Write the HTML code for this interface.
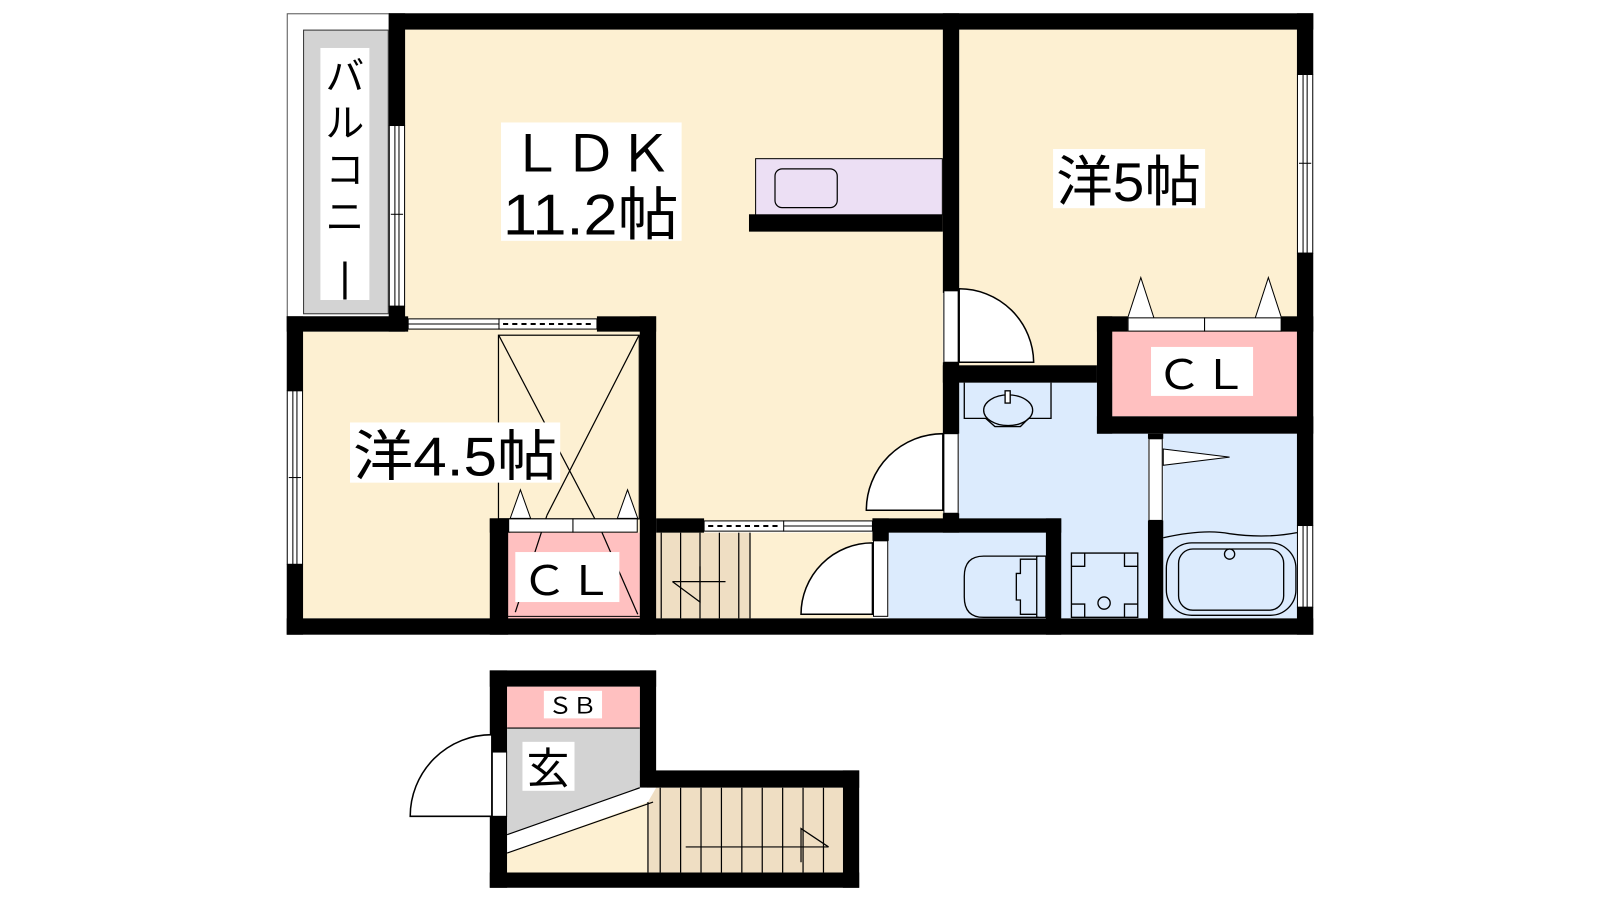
<!DOCTYPE html>
<html><head><meta charset="utf-8"><style>html,body{margin:0;padding:0;background:#fff}svg{display:block}</style></head>
<body>
<svg width="1600" height="900" viewBox="0 0 1568 882" preserveAspectRatio="none" xmlns="http://www.w3.org/2000/svg" font-family="'Liberation Sans','Noto Sans CJK JP',sans-serif">
<!-- floors -->
<rect x="397" y="29" width="527" height="481" fill="#fdf0d2"/>
<rect x="297" y="325" width="330" height="281" fill="#fdf0d2"/>
<rect x="940" y="29" width="331" height="330" fill="#fdf0d2"/>
<rect x="940" y="375" width="185" height="231" fill="#dcebfd"/>
<rect x="1140" y="425" width="131" height="181" fill="#dcebfd"/>
<rect x="871" y="522" width="154" height="84" fill="#dcebfd"/>
<rect x="643" y="522" width="212" height="84" fill="#fdf0d2"/>
<rect x="643" y="522" width="92" height="84" fill="#efdec3"/>
<rect x="497" y="522" width="130" height="84" fill="#ffc0c0"/>
<rect x="1090" y="325" width="181" height="83" fill="#ffc0c0"/>
<!-- balcony -->
<rect x="281.5" y="13.5" width="100" height="297" fill="#fff" stroke="#555" stroke-width="1"/>
<rect x="297.5" y="29.5" width="83" height="278" fill="#d3d3d3" stroke="#333" stroke-width="1"/>
<rect x="314" y="47" width="48" height="247" fill="#fff"/>
<g font-size="38" text-anchor="middle" fill="#000">
<text x="338" y="88">バ</text><text x="338" y="134">ル</text><text x="338" y="180">コ</text><text x="338" y="226">ニ</text><text x="338" y="285" font-size="40">|</text>
</g>
<!-- walls -->
<g fill="#000">
<rect x="381" y="13" width="906" height="16"/>
<rect x="381" y="13" width="16" height="110"/>
<rect x="381" y="300" width="16" height="25"/>
<rect x="281" y="310" width="119" height="15"/>
<rect x="585" y="310" width="58" height="15"/>
<rect x="281" y="310" width="16" height="73"/>
<rect x="281" y="553" width="16" height="69"/>
<rect x="281" y="606" width="1006" height="16"/>
<rect x="627" y="310" width="16" height="312"/>
<rect x="480" y="508" width="18" height="114"/>
<rect x="480" y="508" width="20" height="14"/>
<rect x="643" y="508" width="47" height="14"/>
<rect x="855" y="508" width="185" height="14"/>
<rect x="855" y="508" width="16" height="22"/>
<rect x="1025" y="508" width="15" height="114"/>
<rect x="924" y="13" width="16" height="274"/>
<rect x="924" y="355" width="16" height="70"/>
<rect x="924" y="503" width="16" height="19"/>
<rect x="924" y="358" width="151" height="17"/>
<rect x="1075" y="310" width="15" height="115"/>
<rect x="1075" y="310" width="30" height="15"/>
<rect x="1255" y="310" width="32" height="15"/>
<rect x="1075" y="408" width="212" height="17"/>
<rect x="1125" y="425" width="15" height="5"/>
<rect x="1125" y="510" width="15" height="110"/>
<rect x="1271" y="13" width="16" height="60"/>
<rect x="1271" y="248" width="16" height="267"/>
<rect x="1271" y="595" width="16" height="27"/>
<rect x="734" y="210" width="190" height="17"/>
</g>
<!-- windows -->
<g fill="#fff" stroke="#000" stroke-width="1">
<rect x="381.5" y="123" width="15" height="177"/>
<line x1="387" y1="123" x2="387" y2="300"/><line x1="391" y1="123" x2="391" y2="300"/>
<line x1="383" y1="210" x2="395" y2="210"/>
<rect x="281.5" y="383" width="15" height="170"/>
<line x1="287" y1="383" x2="287" y2="553"/><line x1="291" y1="383" x2="291" y2="553"/>
<line x1="283" y1="468" x2="295" y2="468"/>
<rect x="1271.5" y="73" width="15" height="175"/>
<line x1="1277" y1="73" x2="1277" y2="248"/><line x1="1281" y1="73" x2="1281" y2="248"/>
<line x1="1273" y1="160" x2="1285" y2="160"/>
<rect x="1271.5" y="515" width="15" height="80"/>
<line x1="1277" y1="515" x2="1277" y2="595"/><line x1="1281" y1="515" x2="1281" y2="595"/>
<rect x="400" y="312.5" width="185" height="10"/>
<line x1="400" y1="317.5" x2="489" y2="317.5"/><line x1="489" y1="312" x2="489" y2="323"/>
<rect x="690" y="510.5" width="165" height="10"/>
<line x1="768" y1="515.5" x2="855" y2="515.5"/><line x1="768" y1="510" x2="768" y2="521"/>
</g>
<line x1="493" y1="317.5" x2="583" y2="317.5" stroke="#000" stroke-width="2" stroke-dasharray="5,4"/>
<line x1="694" y1="515.5" x2="766" y2="515.5" stroke="#000" stroke-width="2" stroke-dasharray="5,4"/>
<!-- kitchen -->
<rect x="740.5" y="155.5" width="183" height="55" fill="#ecdff4" stroke="#000" stroke-width="1"/>
<rect x="759.5" y="165.5" width="61" height="38" rx="7" fill="none" stroke="#000" stroke-width="1.2"/>
<!-- closet 4.5 -->
<g stroke="#000" stroke-width="1.2" fill="none">
<rect x="488.5" y="328.5" width="138" height="180"/>
<line x1="489" y1="329" x2="590" y2="522"/><line x1="626" y1="329" x2="536" y2="505"/>
<line x1="536" y1="505" x2="505" y2="600"/><line x1="590" y1="522" x2="625" y2="602"/>
</g>
<g fill="#fff" stroke="#000" stroke-width="1">
<polygon points="500,508 510,480 520,508"/><polygon points="605,508 615,480 625,508"/>
<rect x="498.5" y="508.5" width="63" height="13"/><rect x="561.5" y="508.5" width="63" height="13"/>
<polygon points="1105,312 1118,272 1131,312"/><polygon points="1230,312 1243,272 1256,312"/>
<rect x="1105.5" y="311.5" width="75" height="13"/><rect x="1180.5" y="311.5" width="75" height="13"/>
</g>
<line x1="497" y1="604" x2="627" y2="604" stroke="#000" stroke-width="1"/>
<!-- stairs upper -->
<g stroke="#000" stroke-width="1.2">
<line x1="648" y1="522" x2="648" y2="606"/><line x1="667" y1="522" x2="667" y2="606"/><line x1="686" y1="522" x2="686" y2="606"/><line x1="705" y1="522" x2="705" y2="606"/><line x1="724" y1="522" x2="724" y2="606"/><line x1="735" y1="522" x2="735" y2="606"/>
<polyline points="659,570 711,570" fill="none"/><polyline points="659,570 686,590 686,555" fill="none"/>
</g>
<!-- doors -->
<g fill="#fff" stroke="#000" stroke-width="1.5">
<path d="M940,283 A73,73 0 0 1 1013,355 L940,355 Z"/>
<rect x="925" y="285" width="14" height="70" stroke-width="1"/>
<path d="M924,425 A75,75 0 0 0 849,500 L924,500 Z"/>
<rect x="925" y="425" width="14" height="78" stroke-width="1"/>
<path d="M855,532 A70,70 0 0 0 785,602 L855,602 Z"/>
<rect x="856" y="530" width="14" height="74" stroke-width="1"/>
<rect x="1126" y="430" width="13" height="80" stroke-width="1"/>
<polygon points="1140,440 1205,448 1140,456" stroke-width="1"/>
</g>
<!-- wash basin -->
<g fill="none" stroke="#000" stroke-width="1.3">
<polyline points="945,375 945,410 966,410 975,418 1000,418 1008,410 1030,410 1030,375"/>
<ellipse cx="988" cy="402" rx="24" ry="15"/>
<rect x="985" y="383" width="5" height="12" fill="#fff"/>
<!-- toilet -->
<path d="M1018,545 L964,545 Q945,545 945,565 L945,585 Q945,605 964,605 L1018,605"/>
<rect x="1016" y="545" width="9" height="60"/>
<path d="M1016,548 L1000,548 L1000,562 L996,562 L996,588 L1000,588 L1000,602 L1016,602"/>
<!-- washing pan -->
<path d="M1050,542 H1115 V605 H1050 Z M1050,555 H1063 V542 M1102,542 V555 H1115 M1050,592 H1063 V605 M1102,605 V592 H1115"/>
<circle cx="1082" cy="591" r="6"/>
<!-- bath -->
<path d="M1140,527 Q1180,518 1205,523 Q1240,528 1271,522"/>
<rect x="1143" y="532" width="127" height="71" rx="25"/>
<rect x="1155" y="538" width="103" height="60" rx="14"/>
<circle cx="1205" cy="543" r="5"/>
</g>
<!-- labels -->
<rect x="491" y="120" width="177" height="116" fill="#fff"/>
<text x="579" y="168" font-size="50" text-anchor="middle" textLength="160" lengthAdjust="spacingAndGlyphs">ＬＤＫ</text>
<text x="579" y="230" font-size="56" text-anchor="middle" textLength="172" lengthAdjust="spacingAndGlyphs">11.2帖</text>
<rect x="1032" y="146" width="149" height="58" fill="#fff"/>
<text x="1106" y="197" font-size="54" text-anchor="middle" textLength="142" lengthAdjust="spacingAndGlyphs">洋5帖</text>
<rect x="343" y="414" width="206" height="59" fill="#fff"/>
<text x="446" y="466" font-size="54" text-anchor="middle" textLength="200" lengthAdjust="spacingAndGlyphs">洋4.5帖</text>
<rect x="505" y="541" width="102" height="49" fill="#fff"/>
<text x="556" y="583" font-size="40" text-anchor="middle" textLength="90" lengthAdjust="spacingAndGlyphs">ＣＬ</text>
<rect x="1128" y="340" width="100" height="48" fill="#fff"/>
<text x="1178" y="381" font-size="40" text-anchor="middle" textLength="90" lengthAdjust="spacingAndGlyphs">ＣＬ</text>
<!-- entrance -->
<g fill="#000">
<rect x="480" y="657" width="163" height="16"/>
<rect x="480" y="657" width="17" height="80"/>
<rect x="480" y="800" width="17" height="70"/>
<rect x="627" y="657" width="16" height="115"/>
<rect x="627" y="755" width="215" height="17"/>
<rect x="826" y="755" width="16" height="115"/>
<rect x="480" y="855" width="362" height="15"/>
</g>
<rect x="497" y="673" width="130" height="40" fill="#ffc0c0"/>
<polygon points="497,713 627,713 627,772 497,818" fill="#d3d3d3"/>
<polygon points="497,818 627,772 635,772 497,836" fill="#fff"/>
<polygon points="497,836 635,786 635,855 497,855" fill="#fdf0d2"/>
<rect x="635" y="772" width="191" height="83" fill="#efdec3"/>
<polygon points="627,772 643,772 635,786 627,786" fill="#fff"/>
<g stroke="#000" stroke-width="1.2" fill="none">
<line x1="497" y1="713.5" x2="627" y2="713.5"/>
<line x1="497" y1="818" x2="627" y2="772"/>
<line x1="497" y1="836" x2="640" y2="786"/>
<line x1="635" y1="786" x2="635" y2="855"/>
<line x1="647" y1="772" x2="647" y2="855"/><line x1="667" y1="772" x2="667" y2="855"/><line x1="687" y1="772" x2="687" y2="855"/><line x1="707" y1="772" x2="707" y2="855"/><line x1="727" y1="772" x2="727" y2="855"/><line x1="747" y1="772" x2="747" y2="855"/><line x1="767" y1="772" x2="767" y2="855"/><line x1="787" y1="772" x2="787" y2="855"/><line x1="807" y1="772" x2="807" y2="855"/>
<line x1="672" y1="830" x2="812" y2="830"/>
<polyline points="785,845 785,812 812,830"/>
</g>
<path d="M482,720 A80,80 0 0 0 402,800 L482,800 Z" fill="#fff" stroke="#000" stroke-width="1.5"/>
<rect x="482.5" y="737" width="14" height="63" fill="#fff" stroke="#000" stroke-width="1"/>
<rect x="533" y="677" width="57" height="27" fill="#fff"/>
<text x="561" y="699" font-size="22" text-anchor="middle" textLength="48" lengthAdjust="spacingAndGlyphs">ＳＢ</text>
<rect x="512" y="727" width="51" height="48" fill="#fff"/>
<text x="537" y="768" font-size="42" text-anchor="middle">玄</text>
</svg>
</body></html>
